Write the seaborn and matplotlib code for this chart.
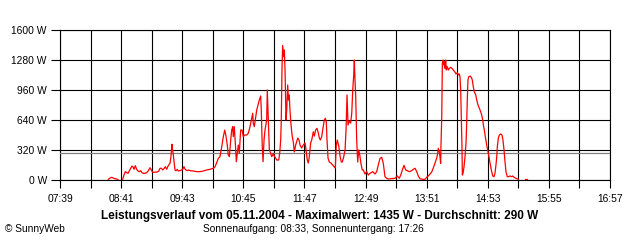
import numpy as np
import pandas as pd
import matplotlib
matplotlib.use("Agg")
import matplotlib.pyplot as plt
import seaborn as sns

# ---------------- data (time of day in minutes, power in W) ----------------
x_tick_labels = ["07:39", "08:41", "09:43", "10:45", "11:47",
                 "12:49", "13:51", "14:53", "15:55", "16:57"]
y_tick_values = [0, 320, 640, 960, 1280, 1600]
average_w = 290

seg1_min = [508.0, 509.7, 511.5, 513.1, 514.8, 516.5, 518.1]
seg1_w = [7, 21, 29, 21, 14, 11, 0]

seg2_min = [
    522.6, 523.9, 525.2, 526.7, 528.0, 529.3, 530.7, 532.0, 533.4, 534.1,
    535.4, 536.8, 537.8, 539.5, 540.9, 542.2, 543.5, 545.2, 547.0, 548.6,
    550.3, 551.6, 553.0, 554.4, 556.4, 557.7, 559.1, 560.5, 561.8, 563.2,
    564.5, 565.8, 567.3, 568.3, 569.3, 570.6, 571.6, 572.6, 573.3, 574.0,
    574.7, 575.7, 576.7, 578.0, 579.0, 580.7, 582.1, 583.5, 584.8, 585.8,
    586.8, 588.2, 589.6, 590.9, 594.2, 597.7, 601.0, 604.4, 607.8, 611.2,
    614.5, 616.3, 618.0, 619.6, 621.3, 623.1, 624.7, 626.1, 627.4, 628.7,
    629.7, 630.8, 632.2, 633.2, 634.2, 634.8, 635.8, 636.9, 637.9, 638.9,
    639.9, 640.9, 642.3, 643.7, 645.0, 646.4, 648.4, 650.0, 651.8, 653.1,
    654.5, 655.1, 656.1, 657.1, 658.6, 659.9, 661.2, 662.6, 663.2, 664.2,
    665.0, 666.0, 667.0, 668.7, 669.3, 670.0, 670.7, 671.4, 672.8, 673.8,
    674.8, 675.4, 676.4, 678.9, 680.9, 681.9, 682.9, 683.5, 684.2, 684.9,
    686.0, 686.6, 687.3, 688.3, 689.0, 690.0, 690.8, 691.6, 692.3, 693.4,
    694.4, 695.7, 696.7, 698.1, 700.2, 701.5, 702.5, 704.2, 705.8, 707.6,
    708.6, 709.9, 710.9, 711.9, 713.3, 714.4, 716.0, 717.0, 718.4, 719.7,
    721.1, 722.1, 723.1, 724.5, 725.8, 727.1, 728.2, 729.2, 729.9, 730.9,
    732.2, 733.9, 735.7, 737.3, 738.3, 739.3, 740.3, 741.8, 743.1, 744.4,
    745.4, 746.8, 748.2, 749.2, 750.2, 751.2, 752.5, 753.9, 755.0, 756.0,
    757.0, 757.6, 758.3, 759.0, 760.0, 761.0, 762.1, 763.1, 764.4, 765.7,
    766.7, 768.4, 770.2, 771.8, 773.5, 776.3, 778.6, 780.3, 781.9, 783.7,
    785.4, 787.0, 788.7, 790.5, 792.1, 795.5, 798.9, 801.2, 803.2, 804.7,
    806.3, 808.0, 809.7, 811.4, 813.4, 815.8, 817.4, 819.2, 820.9, 822.5,
    824.2, 827.0, 829.3, 831.0, 832.7, 834.4, 836.1, 837.7, 839.5, 841.2,
    842.2, 842.8, 843.8, 844.5, 845.2, 845.5, 846.3, 846.9, 847.6, 848.3,
    848.9, 849.6, 850.3, 850.9, 851.9, 853.0, 854.0, 855.4, 856.7, 858.0,
    859.4, 860.8, 862.1, 863.5, 864.1, 864.8, 865.5, 866.1, 866.9, 867.2,
    867.9, 868.9, 869.9, 870.9, 871.6, 872.2, 872.9, 873.7, 875.0, 876.3,
    877.3, 878.3, 879.3, 880.8, 881.8, 883.1, 884.4, 885.8, 886.8, 887.9,
    888.5, 889.5, 890.5, 891.9, 892.9, 894.2, 895.3, 896.6, 898.0, 899.3,
    900.3, 901.3, 902.1, 902.7, 903.7, 904.7, 906.1, 907.4, 908.4, 909.5,
    910.5, 911.5, 912.8, 914.2, 915.5, 917.3, 918.3, 919.6, 921.6, 924.0,
]
seg2_w = [
    7, 53, 89, 78, 71, 96, 125, 149, 135, 114,
    153, 114, 99, 89, 99, 78, 71, 71, 78, 99,
    131, 107, 82, 82, 85, 85, 93, 125, 125, 107,
    121, 142, 114, 142, 160, 178, 249, 381, 313, 267,
    195, 107, 99, 114, 96, 99, 107, 114, 142, 117,
    107, 99, 107, 99, 96, 89, 89, 96, 107, 114,
    125, 142, 185, 231, 249, 355, 462, 533, 469, 373,
    267, 249, 427, 533, 569, 462, 569, 391, 195, 284,
    373, 284, 533, 533, 462, 480, 480, 498, 569, 640,
    711, 605, 569, 640, 747, 800, 853, 896, 747, 355,
    195, 427, 533, 640, 960, 747, 533, 320, 284, 249,
    267, 284, 256, 213, 213, 284, 427, 640, 1173, 1435,
    1315, 1387, 1173, 640, 747, 1013, 853, 907, 747, 587,
    480, 405, 299, 373, 448, 427, 373, 341, 373, 395,
    320, 213, 181, 245, 395, 427, 515, 469, 533, 551,
    501, 448, 427, 462, 555, 640, 658, 619, 427, 235,
    192, 181, 160, 139, 128, 373, 427, 363, 256, 192,
    192, 245, 320, 533, 907, 587, 629, 608, 715, 960,
    1120, 1280, 1067, 896, 427, 192, 320, 267, 171, 107,
    107, 64, 89, 53, 71, 89, 64, 89, 160, 231,
    242, 178, 35, 18, 11, 14, 18, 43, 18, 53,
    107, 157, 107, 99, 89, 99, 114, 125, 89, 43,
    14, 7, 7, 29, 43, 64, 85, 128, 181, 235,
    284, 338, 302, 249, 178, 355, 675, 1245, 1280, 1227,
    1262, 1191, 1280, 1173, 1209, 1173, 1191, 1202, 1191, 1173,
    1156, 1131, 1145, 1120, 1131, 1102, 960, 675, 320, 53,
    71, 142, 249, 391, 605, 853, 1067, 1102, 1109, 1095,
    1067, 995, 942, 907, 853, 800, 765, 729, 693, 640,
    587, 533, 462, 373, 320, 249, 178, 107, 43, 35,
    71, 160, 249, 355, 445, 480, 491, 480, 427, 320,
    192, 85, 35, 35, 43, 35, 43, 29, 18, 7,
]

seg3_min = [930.8, 932.5]
seg3_w = [7, 7]

title = "Leistungsverlauf vom 05.11.2004 - Maximalwert: 1435 W - Durchschnitt: 290 W"
subtitle = "Sonnenaufgang: 08:33, Sonnenuntergang: 17:26"
credit = "\u00a9 SunnyWeb"

# ---------------- build frame ----------------
assert len(seg2_min) == len(seg2_w)
df = pd.concat([
    pd.DataFrame({"minute": seg1_min, "watt": seg1_w, "seg": 1}),
    pd.DataFrame({"minute": seg2_min, "watt": seg2_w, "seg": 2}),
    pd.DataFrame({"minute": seg3_min, "watt": seg3_w, "seg": 3}),
], ignore_index=True)


def to_min(s):
    h, m = s.split(":")
    return int(h) * 60 + int(m)


label_pos = [to_min(s) for s in x_tick_labels]
all_ticks = []
all_labels = []
for i, p in enumerate(label_pos):
    all_ticks.append(p)
    all_labels.append(x_tick_labels[i])
    if i < len(label_pos) - 1:
        all_ticks.append((p + label_pos[i + 1]) / 2)
        all_labels.append("")

plt.rcParams['font.family'] = ['Liberation Sans', 'DejaVu Sans']

fig = plt.figure(figsize=(6.4, 2.4), dpi=100)
fig.patch.set_facecolor("white")
ax = fig.add_axes([60 / 640, 60 / 240, 550 / 640, 150 / 240])
ax.set_facecolor("white")

sns.lineplot(data=df, x="minute", y="watt", units="seg", estimator=None,
             sort=False, color="red", linewidth=0.9, ax=ax, legend=False,
             zorder=5)
ax.axhline(average_w, color="#808080", linewidth=0.9, zorder=4)

ax.set_xlim(label_pos[0], label_pos[-1])
ax.set_ylim(y_tick_values[0], y_tick_values[-1])
ax.set_xticks(all_ticks)
ax.set_xticklabels(all_labels)
ax.set_yticks(y_tick_values)
ax.set_yticklabels([f"{v} W" for v in y_tick_values])
ax.grid(True, color="black", linewidth=0.8, zorder=1)
ax.set_axisbelow(True)
for sp in ax.spines.values():
    sp.set_color("black")
    sp.set_linewidth(0.8)
ax.tick_params(axis="x", length=6, width=0.8, color="black", pad=4,
               labelsize=7.4, bottom=True)
ax.tick_params(axis="y", length=6.5, width=0.8, color="black", pad=3,
               labelsize=7.4, left=True)
ax.set_xlabel("")
ax.set_ylabel("")

fig.text(0.5, 1 - 216 / 240, title, ha="center", va="center",
         fontsize=8.5, fontweight="bold")
fig.text(313 / 640, 1 - 229 / 240, subtitle, ha="center", va="center",
         fontsize=7.3)
fig.text(5 / 640, 1 - 229 / 240, credit, ha="left", va="center",
         fontsize=7.3)

fig.savefig("out.png", dpi=100, facecolor="white")
